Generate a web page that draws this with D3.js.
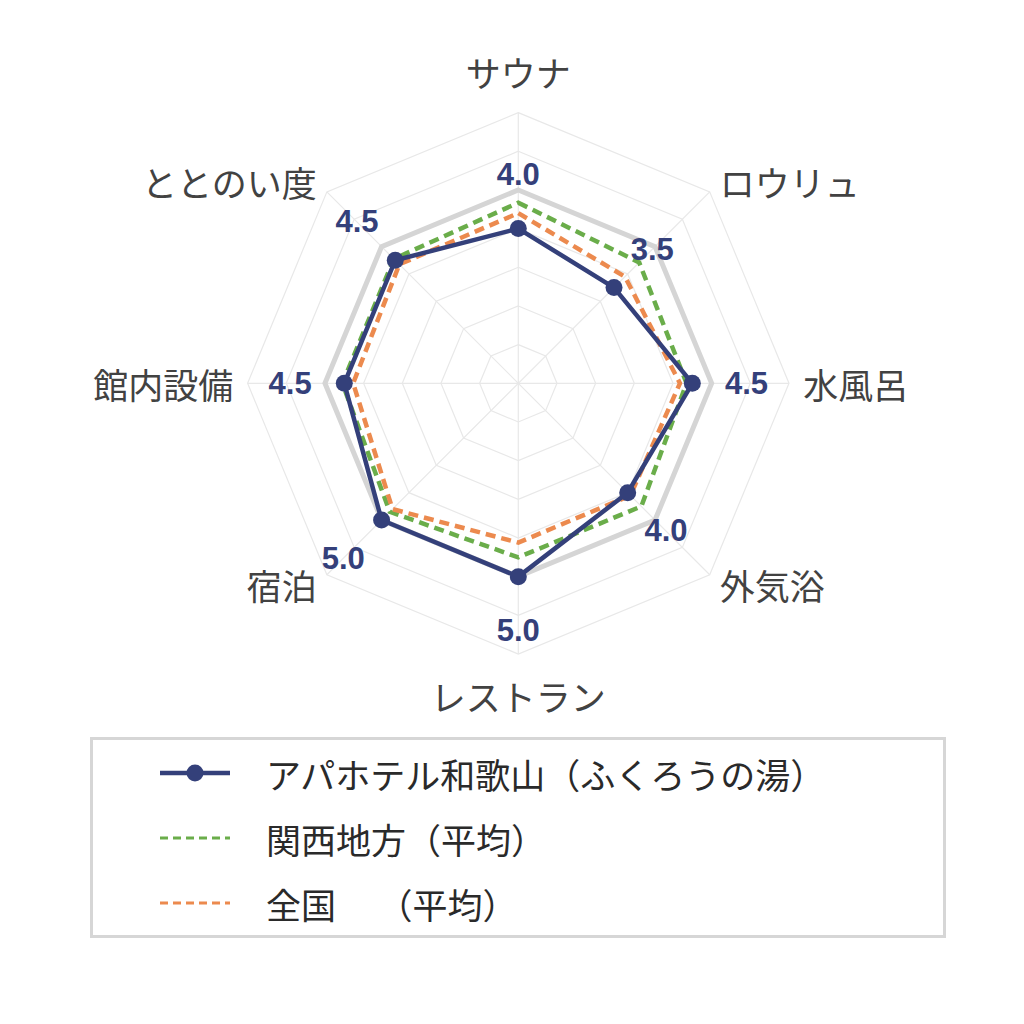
<!DOCTYPE html>
<html><head><meta charset="utf-8">
<script src="https://cdn.jsdelivr.net/npm/d3@7/dist/d3.min.js"></script>
<style>html,body{margin:0;padding:0;background:#fff;}</style>
</head><body>
<svg id="chart" width="1024" height="1024"></svg>
<script>
const categories = ["サウナ","ロウリュ","水風呂","外気浴","レストラン","宿泊","館内設備","ととのい度"];
const facilityValues = [4.0, 3.5, 4.5, 4.0, 5.0, 5.0, 4.5, 4.5];
const kansaiValues = [4.67, 4.42, 4.35, 4.5, 4.5, 4.7, 4.55, 4.55];
const nationalValues = [4.4, 3.9, 4.18, 4.1, 4.12, 4.6, 4.27, 4.35];
const maxValues = [5, 5, 5, 5, 5, 5, 5, 5];
const valueLabels = ["4.0","3.5","4.5","4.0","5.0","5.0","4.5","4.5"];
const gridLevels = [1,2,3,4,5,6,7];
const legendNames = ["アパホテル和歌山（ふくろうの湯）","関西地方（平均）","全国　（平均）"];

const svg = d3.select("#chart");
const cx = 518.3, cy = 383.3;
const r = d3.scaleLinear().domain([0,7]).range([0,270.7]);
const angle = d3.scalePoint().domain(categories).range([0, 2*Math.PI*(categories.length-1)/categories.length]);
const pt = (cat, v) => {
  const a = angle(cat);
  return [cx + r(v)*Math.sin(a), cy - r(v)*Math.cos(a)];
};
const closedLine = d3.line().curve(d3.curveLinearClosed);

const g = svg.append("g");
gridLevels.forEach(l => {
  g.append("path").attr("d", closedLine(categories.map(c => pt(c,l))))
    .attr("fill","none").attr("stroke","#e8e8e8").attr("stroke-width",1.2);
});
categories.forEach(c => {
  const p = pt(c, 7);
  g.append("line").attr("x1",cx).attr("y1",cy).attr("x2",p[0]).attr("y2",p[1])
    .attr("stroke","#e8e8e8").attr("stroke-width",1.2);
});
g.append("path").attr("d", closedLine(categories.map((c,i)=>pt(c,maxValues[i]))))
  .attr("fill","none").attr("stroke","#d5d5d5").attr("stroke-width",5);

const colors = {navy:"#34407a", green:"#6aad4a", orange:"#ec8a4e"};
g.append("path").attr("d", closedLine(categories.map((c,i)=>pt(c,kansaiValues[i]))))
  .attr("fill","none").attr("stroke",colors.green).attr("stroke-width",4.5).attr("stroke-dasharray","10,6");
g.append("path").attr("d", closedLine(categories.map((c,i)=>pt(c,nationalValues[i]))))
  .attr("fill","none").attr("stroke",colors.orange).attr("stroke-width",4.5).attr("stroke-dasharray","10,6");
g.append("path").attr("d", closedLine(categories.map((c,i)=>pt(c,facilityValues[i]))))
  .attr("fill","none").attr("stroke",colors.navy).attr("stroke-width",4.5).attr("stroke-linejoin","round");
g.selectAll("circle.pt").data(categories).enter().append("circle")
  .attr("cx",(c,i)=>pt(c,facilityValues[i])[0]).attr("cy",(c,i)=>pt(c,facilityValues[i])[1])
  .attr("r",8.5).attr("fill",colors.navy);

g.selectAll("text.val").data(categories).enter().append("text")
  .attr("x",(c,i)=>pt(c,facilityValues[i]+1.4)[0]).attr("y",(c,i)=>pt(c,facilityValues[i]+1.4)[1])
  .attr("text-anchor","middle").attr("dominant-baseline","central")
  .attr("font-family","Liberation Sans, Arial, sans-serif").attr("font-weight","bold")
  .attr("font-size",31).attr("fill",colors.navy)
  .text((c,i)=>valueLabels[i]);

const R = 285;
categories.forEach(c => {
  const a = angle(c), s = Math.sin(a), co = Math.cos(a);
  const vertical = Math.abs(s) < 0.1;
  const x = cx + R*s, y = cy - R*co - (vertical ? co*27 : 0);
  const anchor = s > 0.1 ? "start" : (s < -0.1 ? "end" : "middle");
  g.append("text").attr("x",x).attr("y",y).attr("text-anchor",anchor).attr("dominant-baseline","central")
    .attr("font-family","Noto Sans CJK JP, sans-serif").attr("font-size",35).attr("fill","#424242")
    .text(c);
});

const lg = svg.append("g");
lg.append("rect").attr("x",91.5).attr("y",738.5).attr("width",853).attr("height",198)
  .attr("fill","#fff").attr("stroke","#d6d6d6").attr("stroke-width",3);
const rowY = [773, 838, 903];
lg.append("line").attr("x1",160).attr("x2",230).attr("y1",rowY[0]).attr("y2",rowY[0])
  .attr("stroke",colors.navy).attr("stroke-width",4.5);
lg.append("circle").attr("cx",195).attr("cy",rowY[0]).attr("r",8.5).attr("fill",colors.navy);
lg.append("line").attr("x1",160).attr("x2",230).attr("y1",rowY[1]).attr("y2",rowY[1])
  .attr("stroke",colors.green).attr("stroke-width",3).attr("stroke-dasharray","8,5");
lg.append("line").attr("x1",160).attr("x2",230).attr("y1",rowY[2]).attr("y2",rowY[2])
  .attr("stroke",colors.orange).attr("stroke-width",3).attr("stroke-dasharray","8,5");
legendNames.forEach((n,i) => {
  const t = lg.append("text").attr("x",266).attr("y",rowY[i]).attr("dominant-baseline","central")
    .attr("font-family","Noto Sans CJK JP, sans-serif").attr("font-size",35).attr("fill","#2a2a2a");
  const parts = n.split("\u3000");
  if (parts.length > 1) {
    t.append("tspan").text(parts[0] + "\u3000");
    t.append("tspan").attr("dx",24).text(parts[1]);
  } else {
    t.text(n);
  }
});
</script>
</body></html>
